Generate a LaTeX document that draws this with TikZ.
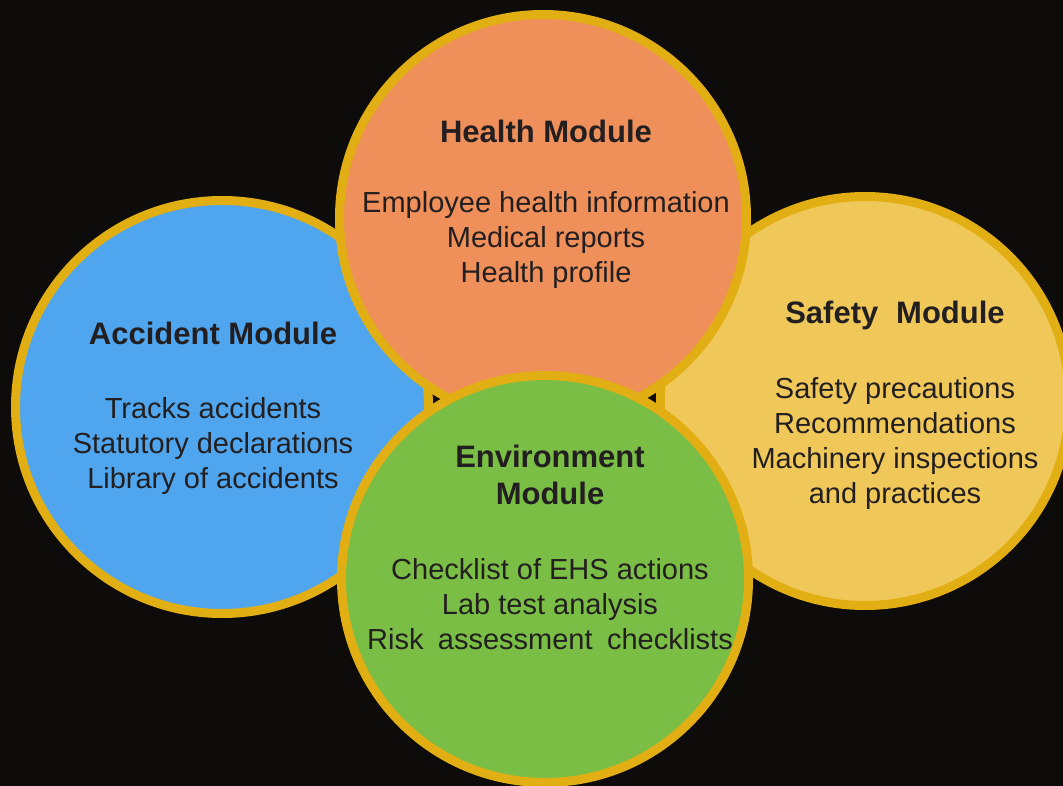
\documentclass[tikz,border=0pt]{standalone}
\usepackage{fontspec}
\setmainfont{Liberation Sans}

\definecolor{backdrop}{HTML}{0E0B0B}
\definecolor{ringgold}{HTML}{E1AF14}
\definecolor{inkgrey}{HTML}{231F20}
\definecolor{healthfill}{HTML}{EF8F5A}
\definecolor{accidentfill}{HTML}{4FA6EE}
\definecolor{safetyfill}{HTML}{F0C85A}
\definecolor{envfill}{HTML}{7ABE46}

\begin{document}
\begin{tikzpicture}[
    x = 1pt,
    y = -1pt,
    module/.style = {circle,
      draw = ringgold,
      line width = 9pt,
      inner sep = 0pt,
      minimum size = {407pt}},
    heading/.style = {text = inkgrey,
      align = center,
      font = \fontsize{31}{37}\selectfont\bfseries},
    items/.style = {text = inkgrey,
      align = center,
      font = \fontsize{29}{35}\selectfont},
    ]

    \fill [backdrop] (0, 0) rectangle (1063, 786);
    \useasboundingbox (0, 0) rectangle (1063, 786);

    % circles, back to front
    \node at (222, 407)
    [module, fill = accidentfill, minimum size = {413pt}, name = accident] {};
    \node at (865, 401)
    [module, fill = safetyfill, minimum size = {409pt}, name = safety] {};
    \node at (543, 218)
    [module, fill = healthfill, name = health] {};
    \node at (545, 579)
    [module, fill = envfill, name = environment] {};

    % texts
    \node at (546, 131)
    [heading, name = health_title] {Health Module};
    \node at (546, 240)
    [items, name = health_items]
    {Employee health information\\Medical reports\\Health profile};

    \node at (213, 333)
    [heading, name = accident_title] {Accident Module};
    \node at (213, 446)
    [items, name = accident_items]
    {Tracks accidents\\Statutory declarations\\Library of accidents};

    \node at (895, 315)
    [heading, name = safety_title] {Safety\hspace{.3em} Module};
    \node at (895, 444)
    [items, name = safety_items]
    {Safety precautions\\Recommendations\\Machinery inspections\\and practices};

    \node at (550, 475)
    [heading, name = environment_title] {Environment\\Module};
    \node at (550, 604)
    [items, name = environment_items]
    {Checklist of EHS actions\\Lab test analysis\\Risk\hspace{.22em} assessment\hspace{.22em} checklists};
  \end{tikzpicture}
\end{document}
